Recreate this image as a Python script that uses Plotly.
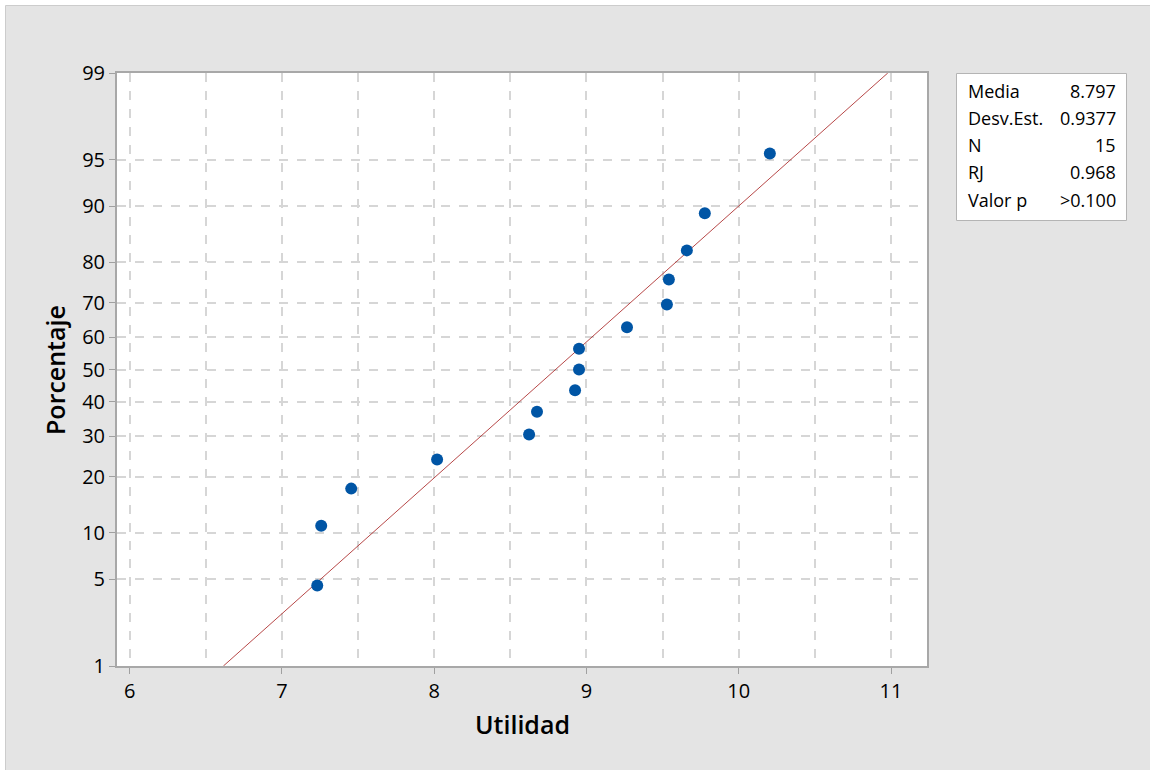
import plotly.graph_objects as go
from statistics import NormalDist

# Data
utilidad = [7.232, 7.258, 7.455, 8.019, 8.623, 8.675, 8.925, 8.951, 8.951,
            9.266, 9.528, 9.541, 9.659, 9.777, 10.204]
porcentaje = [4.5, 11.0, 17.5, 24.0, 30.5, 37.0, 43.5, 50.0, 56.5,
              63.0, 69.5, 76.0, 82.5, 89.0, 95.5]
y_ticks = [1, 5, 10, 20, 30, 40, 50, 60, 70, 80, 90, 95, 99]
x_ticks = [6, 7, 8, 9, 10, 11]
media = 8.797
desv = 0.9377
stat_labels = ["Media", "Desv.Est.", "N", "RJ", "Valor p"]
stat_values = ["8.797", "0.9377", "15", "0.968", ">0.100"]

nd = NormalDist()
def z(p):
    return nd.inv_cdf(p / 100.0)

W, H = 1150, 770
L, R, T, B = 117, 927, 73, 666
FONT = "Open Sans"
BG = "#e4e4e4"
GRID = "#d6d6d6"

fig = go.Figure()

# fitted line
line_p = [y_ticks[0], y_ticks[-1]]
fig.add_trace(go.Scatter(
    x=[media + desv * z(p) for p in line_p],
    y=[z(p) for p in line_p],
    mode="lines", line=dict(color="rgba(170,40,40,0.85)", width=1),
    hoverinfo="skip", showlegend=False))

fig.add_trace(go.Scatter(
    x=utilidad, y=[z(p) for p in porcentaje], mode="markers",
    marker=dict(color="#0055a5", size=12), showlegend=False))

def px_x(px):
    return (px - L) / (R - L)

def px_y(py):
    return (B - py) / (B - T)

shapes = [
    # white outer strips (top and left)
    dict(type="rect", xref="paper", yref="paper", layer="below",
         x0=px_x(-10), x1=px_x(1160), y0=px_y(5.5), y1=px_y(-10),
         fillcolor="white", line=dict(width=0)),
    dict(type="rect", xref="paper", yref="paper", layer="below",
         x0=px_x(-10), x1=px_x(5.5), y0=px_y(780), y1=px_y(-10),
         fillcolor="white", line=dict(width=0)),
    dict(type="line", xref="paper", yref="paper", layer="below",
         x0=px_x(5.5), x1=px_x(1160), y0=px_y(5.5), y1=px_y(5.5),
         line=dict(color="#cccccc", width=1)),
    dict(type="line", xref="paper", yref="paper", layer="below",
         x0=px_x(5.5), x1=px_x(5.5), y0=px_y(5.5), y1=px_y(780),
         line=dict(color="#cccccc", width=1)),
    # stats box
    dict(type="rect", xref="paper", yref="paper",
         x0=px_x(956.5), x1=px_x(1126.5),
         y0=px_y(220.5), y1=px_y(73.5),
         fillcolor="white", line=dict(color="#b4b4b4", width=1), layer="below"),
]

annotations = []
row_y = [91, 118, 145, 172, 200]
for lab, val, ry in zip(stat_labels, stat_values, row_y):
    annotations.append(dict(xref="paper", yref="paper", x=px_x(966),
                            y=px_y(ry), text=lab, showarrow=False,
                            xanchor="left", yanchor="middle",
                            font=dict(family=FONT, size=18, color="black")))
    annotations.append(dict(xref="paper", yref="paper", x=px_x(1118),
                            y=px_y(ry), text=val, showarrow=False,
                            xanchor="right", yanchor="middle",
                            font=dict(family=FONT, size=18, color="black")))

annotations.append(dict(xref="paper", yref="paper", x=px_x(522),
                        y=px_y(724), text="Utilidad", showarrow=False,
                        xanchor="center", yanchor="middle",
                        font=dict(family=FONT, size=25, color="black", weight=600)))
annotations.append(dict(xref="paper", yref="paper", x=px_x(55),
                        y=px_y(370), text="Porcentaje", showarrow=False,
                        textangle=-90, xanchor="center", yanchor="middle",
                        font=dict(family=FONT, size=25, color="black", weight=600)))

fig.update_layout(
    width=W, height=H,
    margin=dict(l=L, r=W - R, t=T, b=H - B),
    paper_bgcolor=BG, plot_bgcolor="white",
    shapes=shapes, annotations=annotations,
    xaxis=dict(range=[5.917, 11.236], tickvals=x_ticks,
               ticktext=[str(v) for v in x_ticks],
               showgrid=True, gridcolor=GRID, griddash="dash", gridwidth=2,
               minor=dict(dtick=0.5, tick0=6, showgrid=True, gridcolor=GRID,
                          griddash="dash", gridwidth=2, ticklen=0),
               ticks="outside", ticklen=6, tickcolor="#a0a0a0", tickwidth=1,
               showline=True, linecolor="#a8a8a8", linewidth=2, mirror=True,
               zeroline=False,
               tickfont=dict(family=FONT, size=20, color="black")),
    yaxis=dict(range=[z(y_ticks[0]), z(y_ticks[-1])],
               tickvals=[z(p) for p in y_ticks],
               ticktext=[str(p) for p in y_ticks],
               showgrid=True, gridcolor=GRID, griddash="dash", gridwidth=2,
               ticks="outside", ticklen=6, tickcolor="#a0a0a0", tickwidth=1,
               showline=True, linecolor="#a8a8a8", linewidth=2, mirror=True,
               zeroline=False,
               tickfont=dict(family=FONT, size=20, color="black")),
)

fig.write_html("out.html")
